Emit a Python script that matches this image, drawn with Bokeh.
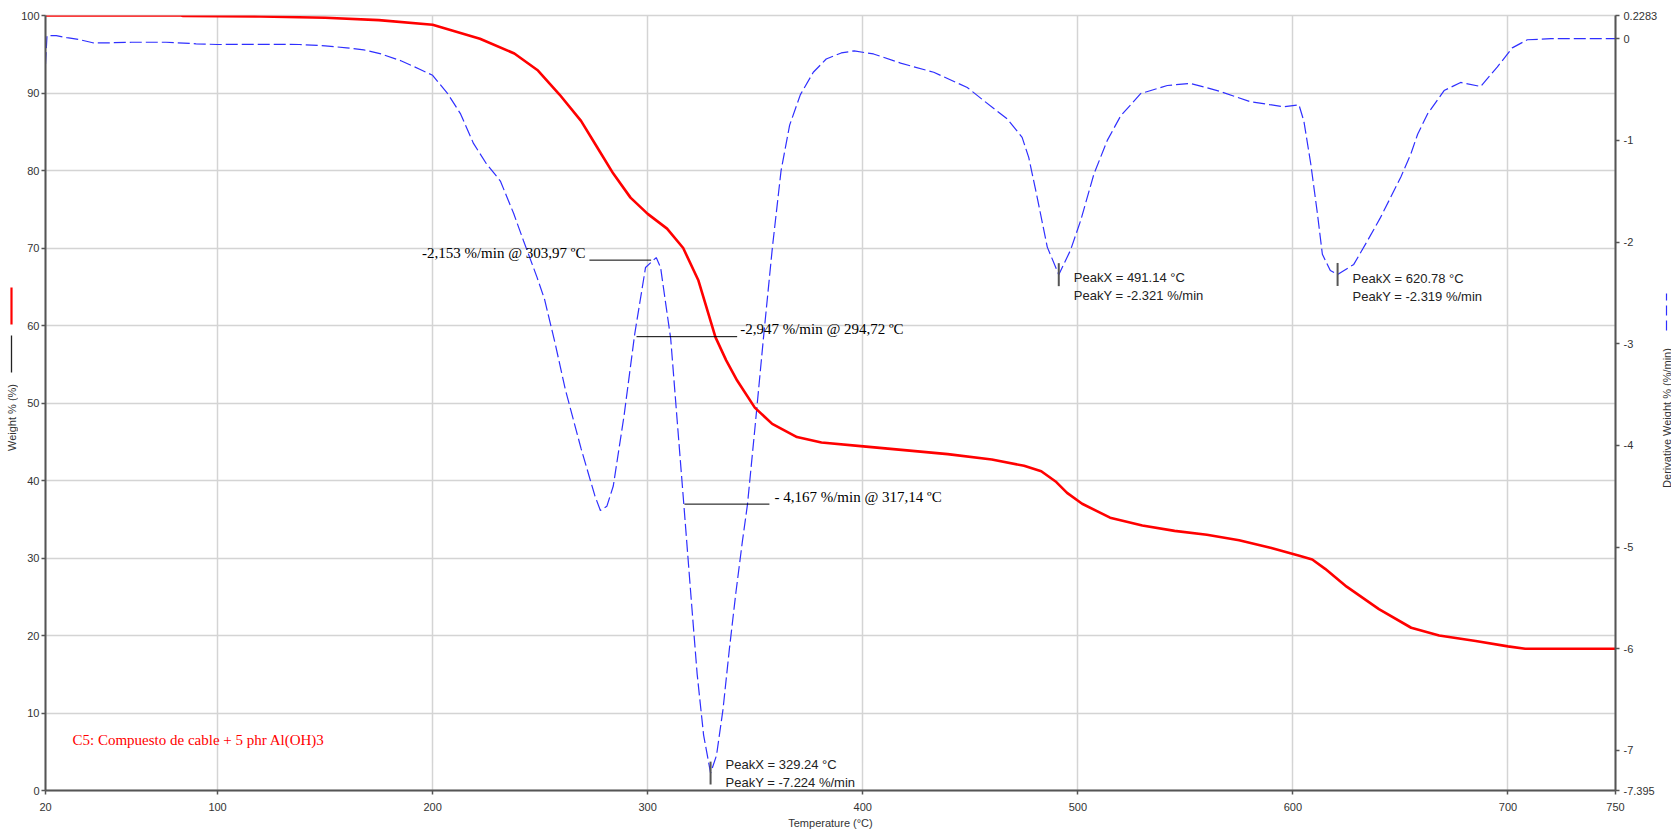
from bokeh.plotting import figure
from bokeh.layouts import row
from bokeh.models import Range1d, LinearAxis, FixedTicker, Label
from bokeh.embed import file_html
from bokeh.resources import INLINE
from bokeh.core.properties import value
import math

# ---------------- data ----------------
temp_w = [20, 83, 84, 120, 150, 175, 200, 222, 238, 249, 259, 269, 276.5, 284, 292, 300,
          309, 316.5, 323.6, 331.5, 336.5, 341.6, 349.8, 357.9, 369.4, 380.8, 400.3, 439.5,
          460, 475, 483, 490, 495, 502, 515, 530, 545, 560, 575, 590, 603, 609, 615, 625,
          640, 655, 668, 685, 700, 708, 750]
weight = [100.0, 100.0, 99.93, 99.88, 99.7, 99.4, 98.8, 97.0, 95.1, 92.9, 89.8, 86.4, 83.0,
          79.6, 76.5, 74.4, 72.5, 70.0, 65.8, 58.5, 55.5, 52.9, 49.4, 47.3, 45.6, 44.9, 44.4,
          43.4, 42.7, 41.9, 41.2, 39.8, 38.4, 37.0, 35.2, 34.2, 33.5, 33.0, 32.3, 31.3, 30.3,
          29.8, 28.6, 26.3, 23.4, 21.0, 20.0, 19.3, 18.6, 18.3, 18.3]

temp_d = [20.0, 20.7, 25, 30, 36, 42, 50, 60, 76, 90, 100, 120, 138, 150, 160, 168, 176, 185,
          194, 200, 207, 213, 219, 225, 231.5, 237.7, 242.3, 248.6, 252, 257, 261.7, 269,
          275.5, 278, 281, 284, 289, 294, 299, 303.97, 306, 308, 310.7, 313.5, 316.8, 320,
          323, 326, 329.24, 332, 335, 338, 341, 344, 346.4, 350, 353.8, 358, 362, 366, 371,
          377, 383, 390, 396, 405, 417.6, 433, 448.6, 456.3, 467.2, 474.1, 477.2, 481.1,
          485.8, 491.14, 496.6, 501.3, 507.5, 513.7, 519.9, 529.2, 541.6, 552.4, 564.8,
          580.3, 595.8, 602.8, 605.1, 608.3, 611.4, 613.7, 617.4, 620.78, 628.3, 634.6,
          640.7, 650.2, 654.9, 658, 662.6, 670.3, 678, 687.3, 695, 702, 709, 720, 735, 750]
deriv = [-0.25, 0.03, 0.03, 0.01, -0.01, -0.04, -0.04, -0.035, -0.035, -0.05, -0.057, -0.055,
         -0.057, -0.07, -0.09, -0.11, -0.15, -0.215, -0.30, -0.36, -0.54, -0.74, -1.03, -1.23,
         -1.40, -1.72, -1.99, -2.35, -2.56, -3.0, -3.45, -4.03, -4.5, -4.64, -4.6, -4.4,
         -3.71, -2.9, -2.25, -2.153, -2.25, -2.55, -2.95, -3.7, -4.58, -5.45, -6.25, -6.85,
         -7.224, -7.05, -6.6, -6.0, -5.45, -4.95, -4.58, -3.8, -2.95, -2.05, -1.3, -0.85,
         -0.55, -0.33, -0.2, -0.14, -0.12, -0.15, -0.24, -0.33, -0.48, -0.61, -0.79, -0.97,
         -1.17, -1.56, -2.05, -2.321, -2.08, -1.79, -1.33, -1.0, -0.76, -0.54, -0.46, -0.44,
         -0.51, -0.62, -0.67, -0.65, -0.81, -1.23, -1.72, -2.12, -2.28, -2.319, -2.22, -1.99,
         -1.76, -1.36, -1.13, -0.94, -0.74, -0.51, -0.43, -0.47, -0.28, -0.09, -0.01, 0.0,
         0.0, 0.0]

x_ticks = [20, 100, 200, 300, 400, 500, 600, 700, 750]
w_ticks = [0, 10, 20, 30, 40, 50, 60, 70, 80, 90, 100]
d_ticks = [0.2283, 0, -1, -2, -3, -4, -5, -6, -7, -7.395]
d_tick_labels = ["0.2283", "0", "-1", "-2", "-3", "-4", "-5", "-6", "-7", "-7.395"]

ann_text = ["-2,153 %/min @ 303,97 ºC", "-2,947 %/min @ 294,72 ºC", "- 4,167 %/min @ 317,14 ºC"]
ann_x0 = [272.9, 294.8, 317.1]
ann_x1 = [301.6, 341.6, 356.6]
ann_y = [-2.178, -2.931, -4.578]

peak_T = [329.24, 491.14, 620.78]
peak_D = [-7.224, -2.321, -2.319]

title_text = "C5: Compuesto de cable + 5 phr Al(OH)3"
left_title = "Weight % (%)"
right_title = "Derivative Weight % (%/min)"
x_title = "Temperature (°C)"

# ---------------- layout constants ----------------
X0, X1 = 20, 750
W0, W1 = 0, 100
D0, D1 = -7.395, 0.2283
FW, FH = 1570, 775
TOP, BOTTOM = 15, 44
H = TOP + FH + BOTTOM
pxT = FW / (X1 - X0)
pxW = FH / (W1 - W0)
pxD = FH / (D1 - D0)

SANS = "Liberation Sans"
SERIF = "Liberation Serif"
AXIS_C = "#555555"
TEXT_C = "#333333"
BLUE = "#2f2fff"
RED = "#ff0000"


def strip(width):
    s = figure(frame_width=width, frame_height=H, x_range=Range1d(0, width),
               y_range=Range1d(0, H), output_backend="svg", toolbar_location=None,
               min_border=0, x_axis_location=None, y_axis_location=None)
    s.grid.visible = False
    s.outline_line_color = None
    s.background_fill_color = "white"
    s.border_fill_color = "white"
    return s


# ---------------- main figure ----------------
p = figure(frame_width=FW, frame_height=FH, x_range=Range1d(X0, X1), y_range=Range1d(W0, W1),
           output_backend="svg", toolbar_location=None,
           min_border_left=27, min_border_top=TOP, min_border_right=42, min_border_bottom=BOTTOM)
p.extra_y_ranges = {"d": Range1d(D0, D1)}
p.background_fill_color = "white"
p.border_fill_color = "white"
p.outline_line_color = "#d4d4d4"
p.outline_line_width = 1.5

right = LinearAxis(y_range_name="d", ticker=FixedTicker(ticks=d_ticks),
                   major_label_overrides={t: s for t, s in zip(d_ticks, d_tick_labels)})
p.add_layout(right, "right")

p.xaxis.ticker = FixedTicker(ticks=x_ticks)
p.yaxis[0].ticker = FixedTicker(ticks=w_ticks)

for ax in [p.xaxis[0], p.yaxis[0], right]:
    ax.axis_line_color = AXIS_C
    ax.axis_line_width = 2
    ax.major_tick_line_color = AXIS_C
    ax.major_tick_line_width = 1.5
    ax.major_tick_in = 0
    ax.major_tick_out = 4
    ax.minor_tick_line_color = None
    ax.major_label_text_font = SANS
    ax.major_label_text_font_size = "11px"
    ax.major_label_text_color = TEXT_C
    ax.major_label_standoff = 2

p.xaxis.major_label_standoff = 8
right.major_label_standoff = 4
p.xaxis.axis_label = x_title
p.xaxis.axis_label_text_font = SANS
p.xaxis.axis_label_text_font_size = "11px"
p.xaxis.axis_label_text_font_style = "normal"
p.xaxis.axis_label_text_color = TEXT_C
p.xaxis.axis_label_standoff = 3

p.xgrid.ticker = FixedTicker(ticks=[100, 200, 300, 400, 500, 600, 700])
p.ygrid.ticker = FixedTicker(ticks=w_ticks)
p.grid.grid_line_color = "#d4d4d4"
p.grid.grid_line_width = 1.5

# curves
p.line(temp_d, deriv, y_range_name="d", line_color=BLUE, line_width=1.2, line_dash="12 4")
p.line(temp_w, weight, line_color=RED, line_width=2.6)

# annotation leader lines and texts
p.segment(x0=ann_x0, y0=ann_y, x1=ann_x1, y1=ann_y, y_range_name="d",
          line_color="black", line_width=1)
ann_tx = [ann_x0[0] - 4 / pxT, ann_x1[1] + 3 / pxT, ann_x1[2] + 5 / pxT]
ann_ty = [y + 7.5 / pxD for y in ann_y]
ann_align = ["right", "left", "left"]
for t, x, y, a in zip(ann_text, ann_tx, ann_ty, ann_align):
    p.add_layout(Label(x=x, y=y, y_range_name="d", text=t, text_align=a, text_baseline="middle",
                       text_font=SERIF, text_font_size="15px", text_color="black"))

# peak markers and labels
half = 11.5 / pxD
p.segment(x0=peak_T, y0=[d - half for d in peak_D], x1=peak_T, y1=[d + half for d in peak_D],
          y_range_name="d", line_color=AXIS_C, line_width=2)
peak_off = [(9, -9), (-3, -21), (-4, -22)]
for T, D, (o1, o2) in zip(peak_T, peak_D, peak_off):
    for txt, off in ((f"PeakX = {T:.2f} °C", o1), (f"PeakY = {D:.3f} %/min", o2)):
        p.add_layout(Label(x=T + 15 / pxT, y=D + off / pxD, y_range_name="d", text=txt,
                           text_align="left", text_baseline="middle", text_font=SANS,
                           text_font_size="13px", text_color="#222222"))

# sample title
p.add_layout(Label(x=X0 + 27 / pxT, y=W0 + 50.5 / pxW, text=title_text, text_align="left",
                   text_baseline="middle", text_font=SERIF, text_font_size="15px",
                   text_color=RED))

# ---------------- left strip: axis title + legend keys ----------------
LW = 18
ls = strip(LW)
ls.text(x=[11], y=[H - 402], text=[left_title], angle=math.pi / 2, text_align="center",
        text_baseline="middle", text_font=value(SANS), text_font_size="11px",
        text_color=TEXT_C)
ls.segment(x0=[11], y0=[H - 309], x1=[11], y1=[H - 272], line_color=RED, line_width=2.2)
ls.segment(x0=[11], y0=[H - 357], x1=[11], y1=[H - 320], line_color="#222222", line_width=1.3)

# ---------------- right strip: axis title + legend key ----------------
RW = 12
rs = strip(RW)
rs.text(x=[6], y=[H - 402.5], text=[right_title], angle=math.pi / 2, text_align="center",
        text_baseline="middle", text_font=value(SANS), text_font_size="11px",
        text_color=TEXT_C)
rs.segment(x0=[6], y0=[H - 315], x1=[6], y1=[H - 278], line_color=BLUE, line_width=1.2,
           line_dash="10 5")

layout = row(ls, p, rs, spacing=0)
open("out.html", "w").write(file_html(layout, INLINE))
